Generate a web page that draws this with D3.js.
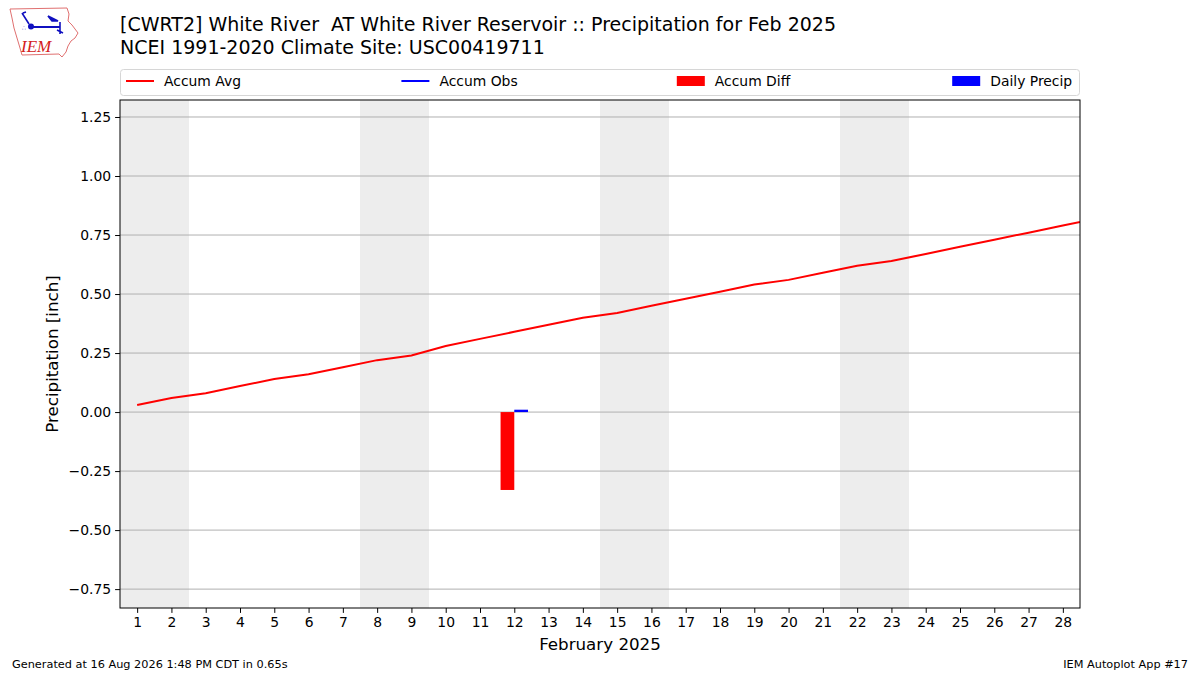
<!DOCTYPE html>
<html>
<head>
<meta charset="utf-8">
<script src="https://cdn.jsdelivr.net/npm/d3@7"></script>
<style>
  body { margin: 0; background: #fff; }
  svg { font-family: "DejaVu Sans", sans-serif; }
</style>
</head>
<body>
<script>
// days of the month (29 = Mar 1, drawn past the right edge and clipped)
let days = [1, 2, 3, 4, 5, 6, 7, 8, 9, 10, 11, 12, 13, 14, 15, 16, 17, 18, 19, 20, 21, 22, 23, 24, 25, 26, 27, 28, 29];
let accumAvg = [0.03, 0.06, 0.08, 0.11, 0.14, 0.16, 0.19, 0.22, 0.24, 0.28, 0.31, 0.34, 0.37, 0.40, 0.42, 0.45, 0.48, 0.51, 0.54, 0.56, 0.59, 0.62, 0.64, 0.67, 0.70, 0.73, 0.76, 0.79, 0.82];
// observations only exist for day 12
let obsDays = [12];
let accumObs = [0.01];
let dailyPrecip = [0.01];
let accumDiff = [-0.33];
let weekendDays = [1, 2, 8, 9, 15, 16, 22, 23];
let xTicks = days.slice(0, 28);
let yTicks = [-0.75, -0.5, -0.25, 0, 0.25, 0.5, 0.75, 1.0, 1.25];
let legendItems = [
    {name: "Accum Avg", kind: "line", color: "red"},
    {name: "Accum Obs", kind: "line", color: "blue"},
    {name: "Accum Diff", kind: "patch", color: "red"},
    {name: "Daily Precip", kind: "patch", color: "blue"}
];

let W = 1200, H = 675;
let pLeft = 120, pRight = 1080, pTop = 100, pBottom = 608;

let svg = d3.select("body").append("svg")
    .attr("width", W)
    .attr("height", H);

let x = d3.scaleLinear().domain([0.5, 28.5]).range([pLeft, pRight]);
let y = d3.scaleLinear().domain([-0.83, 1.322]).range([pBottom, pTop]);

svg.append("clipPath").attr("id", "plotclip")
    .append("rect")
    .attr("x", pLeft).attr("y", pTop)
    .attr("width", pRight - pLeft).attr("height", pBottom - pTop);

let plot = svg.append("g").attr("clip-path", "url(#plotclip)");

// weekend shading
plot.selectAll("rect.wk")
    .data(weekendDays)
    .enter()
    .append("rect")
    .attr("class", "wk")
    .attr("x", d => x(d - 0.5))
    .attr("width", d => x(d + 0.5) - x(d - 0.5) + 0.5)
    .attr("y", pTop)
    .attr("height", pBottom - pTop)
    .attr("fill", "#ededed")
    .attr("shape-rendering", "crispEdges");

// horizontal grid
plot.selectAll("line.grid")
    .data(yTicks)
    .enter()
    .append("line")
    .attr("class", "grid")
    .attr("x1", pLeft).attr("x2", pRight)
    .attr("y1", d => y(d)).attr("y2", d => y(d))
    .attr("stroke", "#b0b0b0")
    .attr("stroke-width", 1);

// accum diff bars, left of the day
plot.selectAll("rect.diff")
    .data(obsDays)
    .enter()
    .append("rect")
    .attr("class", "diff")
    .attr("x", d => x(d - 0.4))
    .attr("width", d => x(d) - x(d - 0.4))
    .attr("y", (d, i) => y(Math.max(0, accumDiff[i])))
    .attr("height", (d, i) => Math.abs(y(accumDiff[i]) - y(0)))
    .attr("fill", "red");

// daily precip bars, right of the day
plot.selectAll("rect.daily")
    .data(obsDays)
    .enter()
    .append("rect")
    .attr("class", "daily")
    .attr("x", d => x(d))
    .attr("width", d => x(d + 0.4) - x(d))
    .attr("y", (d, i) => y(dailyPrecip[i]))
    .attr("height", (d, i) => y(0) - y(dailyPrecip[i]))
    .attr("fill", "blue");

let avgLine = d3.line()
    .x((d, i) => x(days[i]))
    .y(d => y(d));

plot.append("path")
    .datum(accumAvg)
    .attr("d", avgLine)
    .attr("fill", "none")
    .attr("stroke", "red")
    .attr("stroke-width", 2);

let obsLine = d3.line()
    .x((d, i) => x(obsDays[i]))
    .y(d => y(d));

plot.append("path")
    .datum(accumObs)
    .attr("d", obsLine)
    .attr("fill", "none")
    .attr("stroke", "blue")
    .attr("stroke-width", 2);

// axes
let yAxis = d3.axisLeft(y)
    .tickValues(yTicks)
    .tickSize(4.9)
    .tickPadding(4)
    .tickFormat(d => d3.format(".2f")(d).replace("-", "\u2212"));

let gy = svg.append("g")
    .attr("transform", `translate(${pLeft},0)`)
    .call(yAxis);

let xAxis = d3.axisBottom(x)
    .tickValues(xTicks)
    .tickSize(4.9)
    .tickPadding(4)
    .tickFormat(d3.format("d"));

let gx = svg.append("g")
    .attr("transform", `translate(0,${pBottom})`)
    .call(xAxis);

[gx, gy].forEach(g => {
    g.select(".domain").remove();
    g.selectAll(".tick line").attr("stroke", "#000").attr("stroke-width", 1);
    g.selectAll(".tick text")
        .attr("fill", "#000")
        .style("font-size", "13.9px")
        .style("font-family", "DejaVu Sans");
});

// frame
svg.append("rect")
    .attr("x", pLeft).attr("y", pTop)
    .attr("width", pRight - pLeft).attr("height", pBottom - pTop)
    .attr("fill", "none")
    .attr("stroke", "#000")
    .attr("stroke-width", 1);

// axis labels
svg.append("text")
    .attr("x", (pLeft + pRight) / 2)
    .attr("y", 650)
    .attr("text-anchor", "middle")
    .style("font-size", "16.7px")
    .text("February 2025");

svg.append("text")
    .attr("transform", `translate(58,${(pTop + pBottom) / 2}) rotate(-90)`)
    .attr("text-anchor", "middle")
    .style("font-size", "16.7px")
    .text("Precipitation [inch]");

// title
svg.append("text")
    .attr("x", 120).attr("y", 31)
    .style("font-size", "19px")
    .text("[CWRT2] White River\u00a0\u00a0AT White River Reservoir :: Precipitation for Feb 2025");

svg.append("text")
    .attr("x", 120).attr("y", 54)
    .style("font-size", "19px")
    .text("NCEI 1991-2020 Climate Site: USC00419711");

// legend
let lg = svg.append("g");
lg.append("rect")
    .attr("x", 120.5).attr("y", 69.5)
    .attr("width", 959).attr("height", 26)
    .attr("rx", 3)
    .attr("fill", "#fff")
    .attr("stroke", "#d6d6d6");

let colW = 275.4;
let items = lg.selectAll("g.item")
    .data(legendItems)
    .enter()
    .append("g")
    .attr("class", "item")
    .attr("transform", (d, i) => `translate(${126 + i * colW},81)`);

items.filter(d => d.kind === "line")
    .append("line")
    .attr("x1", 0).attr("x2", 28)
    .attr("y1", 0).attr("y2", 0)
    .attr("stroke", d => d.color)
    .attr("stroke-width", 2);

items.filter(d => d.kind === "patch")
    .append("rect")
    .attr("x", 0).attr("y", -5)
    .attr("width", 28).attr("height", 10)
    .attr("fill", d => d.color);

items.append("text")
    .attr("x", 38)
    .attr("y", 5)
    .style("font-size", "13.9px")
    .text(d => d.name);

// footer
svg.append("text")
    .attr("x", 12).attr("y", 668)
    .style("font-size", "11.3px")
    .text("Generated at 16 Aug 2026 1:48 PM CDT in 0.65s");

svg.append("text")
    .attr("x", 1188).attr("y", 668)
    .attr("text-anchor", "end")
    .style("font-size", "11.3px")
    .text("IEM Autoplot App #17");

// rough IEM logo
let logo = svg.append("g");
logo.append("path")
    .attr("d", "M10,9 L67,8 L69,14 L68,21 L72,25 L78,33 L75,38 L71,41 L68,46 L66,52 L62,57 L59,54 L22,55 L20,48 L17,38 L14,28 L12,18 Z")
    .attr("fill", "#fff")
    .attr("stroke", "#e07070")
    .attr("stroke-width", 1);
logo.append("text")
    .attr("x", 21).attr("y", 52)
    .style("font-family", "Liberation Serif, serif")
    .style("font-style", "italic")
    .style("font-size", "17px")
    .attr("fill", "#d42020")
    .text("IEM");
logo.append("line")
    .attr("x1", 31).attr("x2", 60).attr("y1", 27).attr("y2", 27)
    .attr("stroke", "#1010c0").attr("stroke-width", 2);
logo.append("circle")
    .attr("cx", 31).attr("cy", 26.5).attr("r", 3)
    .attr("fill", "#1010c0");
logo.append("path")
    .attr("d", "M22,13 L29,24 M23,13 L26,12 M48,16 L58,21 L52,21 Z M60,22 L60,34 M57,30 L63,33")
    .attr("stroke", "#1010c0").attr("stroke-width", 1.6).attr("fill", "#1010c0");
logo.append("text")
    .attr("x", 22).attr("y", 30)
    .style("font-size", "6px")
    .attr("fill", "#1010c0")
    .text("\u2234");
</script>
</body>
</html>
